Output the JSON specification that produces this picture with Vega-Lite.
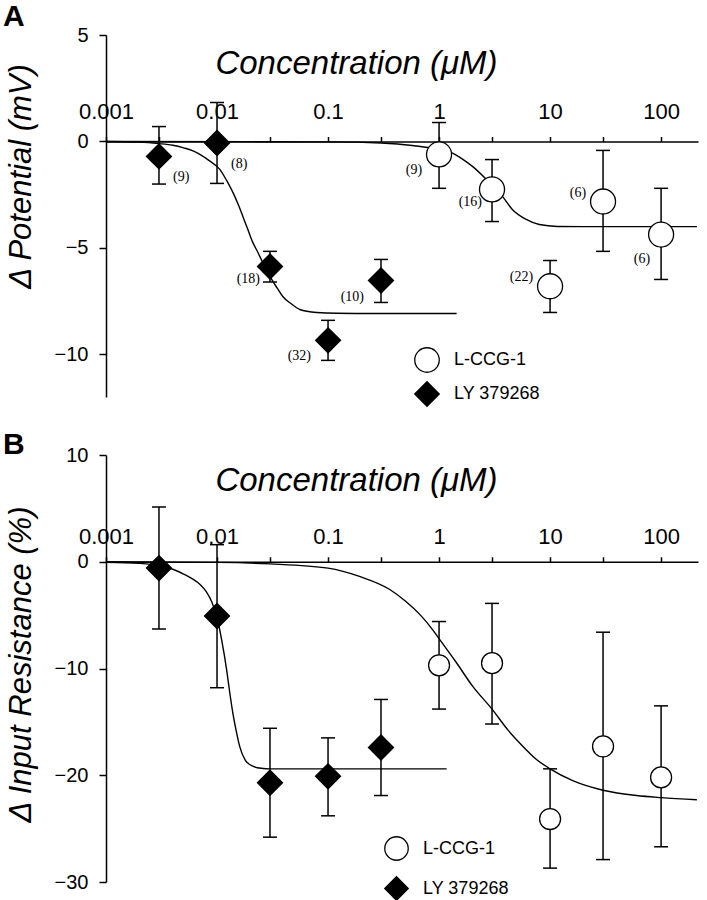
{
  "$schema": "https://vega.github.io/schema/vega-lite/v6.json",
  "background": "white",
  "padding": {"left": 3, "top": 2, "right": 0, "bottom": 0},
  "bounds": "flush",
  "spacing": 58,
  "config": {
    "view": {"stroke": null},
    "font": "Liberation Sans",
    "axis": {
      "domainColor": "black", "domainWidth": 1.5, "tickColor": "black", "tickWidth": 1.5,
      "labelColor": "black", "titleColor": "black", "labelFont": "Liberation Sans", "titleFont": "Liberation Sans",
      "grid": false, "labelFlush": false, "labelOverlap": false, "titleFontWeight": "normal", "titleFontStyle": "italic"
    },
    "legend": {
      "orient": "none", "title": null, "symbolStrokeColor": "black", "symbolStrokeWidth": 1.3,
      "labelFontSize": 18, "labelFont": "Liberation Sans", "labelColor": "black", "labelOffset": 14, "padding": 0
    }
  },
  "datasets": {
    "ptsA": [
      {"drug": "LY 379268", "conc": 0.003, "mean": -0.70, "lo": -2.0, "hi": 0.7, "n": "(9)"},
      {"drug": "LY 379268", "conc": 0.01, "mean": -0.07, "lo": -1.97, "hi": 1.83, "n": "(8)"},
      {"drug": "LY 379268", "conc": 0.03, "mean": -5.87, "lo": -6.6, "hi": -5.16, "n": "(18)"},
      {"drug": "LY 379268", "conc": 0.1, "mean": -9.34, "lo": -10.28, "hi": -8.4, "n": "(32)"},
      {"drug": "LY 379268", "conc": 0.3, "mean": -6.53, "lo": -7.56, "hi": -5.54, "n": "(10)"},
      {"drug": "L-CCG-1", "conc": 1, "mean": -0.61, "lo": -2.2, "hi": 0.89, "n": "(9)"},
      {"drug": "L-CCG-1", "conc": 3, "mean": -2.25, "lo": -3.76, "hi": -0.85, "n": "(16)"},
      {"drug": "L-CCG-1", "conc": 10, "mean": -6.8, "lo": -8.03, "hi": -5.59, "n": "(22)"},
      {"drug": "L-CCG-1", "conc": 30, "mean": -2.82, "lo": -5.16, "hi": -0.42, "n": "(6)"},
      {"drug": "L-CCG-1", "conc": 100, "mean": -4.37, "lo": -6.48, "hi": -2.2, "n": "(6)"}
    ],
    "fitA": [
      {"drug": "LY 379268", "conc": 0.001, "mean": 0},
      {"drug": "LY 379268", "conc": 0.002, "mean": -0.03},
      {"drug": "LY 379268", "conc": 0.003, "mean": -0.1},
      {"drug": "LY 379268", "conc": 0.004, "mean": -0.18},
      {"drug": "LY 379268", "conc": 0.005, "mean": -0.3},
      {"drug": "LY 379268", "conc": 0.006, "mean": -0.43},
      {"drug": "LY 379268", "conc": 0.007, "mean": -0.61},
      {"drug": "LY 379268", "conc": 0.0085, "mean": -0.9},
      {"drug": "LY 379268", "conc": 0.0106, "mean": -1.31},
      {"drug": "LY 379268", "conc": 0.0122, "mean": -1.83},
      {"drug": "LY 379268", "conc": 0.0139, "mean": -2.39},
      {"drug": "LY 379268", "conc": 0.0155, "mean": -2.95},
      {"drug": "LY 379268", "conc": 0.0171, "mean": -3.52},
      {"drug": "LY 379268", "conc": 0.019, "mean": -4.15},
      {"drug": "LY 379268", "conc": 0.021, "mean": -4.74},
      {"drug": "LY 379268", "conc": 0.0233, "mean": -5.2},
      {"drug": "LY 379268", "conc": 0.0258, "mean": -5.68},
      {"drug": "LY 379268", "conc": 0.0285, "mean": -6.1},
      {"drug": "LY 379268", "conc": 0.0311, "mean": -6.48},
      {"drug": "LY 379268", "conc": 0.035, "mean": -6.9},
      {"drug": "LY 379268", "conc": 0.0391, "mean": -7.28},
      {"drug": "LY 379268", "conc": 0.046, "mean": -7.6},
      {"drug": "LY 379268", "conc": 0.0556, "mean": -7.89},
      {"drug": "LY 379268", "conc": 0.079, "mean": -8.03},
      {"drug": "LY 379268", "conc": 0.12, "mean": -8.07},
      {"drug": "LY 379268", "conc": 0.3, "mean": -8.08},
      {"drug": "LY 379268", "conc": 1.44, "mean": -8.08},
      {"drug": "L-CCG-1", "conc": 0.001, "mean": 0},
      {"drug": "L-CCG-1", "conc": 0.1, "mean": -0.02},
      {"drug": "L-CCG-1", "conc": 0.3, "mean": -0.07},
      {"drug": "L-CCG-1", "conc": 0.6, "mean": -0.2},
      {"drug": "L-CCG-1", "conc": 1, "mean": -0.38},
      {"drug": "L-CCG-1", "conc": 1.32, "mean": -0.55},
      {"drug": "L-CCG-1", "conc": 1.65, "mean": -0.85},
      {"drug": "L-CCG-1", "conc": 2.0, "mean": -1.17},
      {"drug": "L-CCG-1", "conc": 2.67, "mean": -1.78},
      {"drug": "L-CCG-1", "conc": 3.2, "mean": -2.2},
      {"drug": "L-CCG-1", "conc": 3.72, "mean": -2.58},
      {"drug": "L-CCG-1", "conc": 4.57, "mean": -3.19},
      {"drug": "L-CCG-1", "conc": 6.1, "mean": -3.66},
      {"drug": "L-CCG-1", "conc": 8.0, "mean": -3.9},
      {"drug": "L-CCG-1", "conc": 11.7, "mean": -3.99},
      {"drug": "L-CCG-1", "conc": 20, "mean": -4.0},
      {"drug": "L-CCG-1", "conc": 210, "mean": -4.0}
    ],
    "ptsB": [
      {"drug": "LY 379268", "conc": 0.003, "mean": -0.59, "lo": -6.3, "hi": 5.13},
      {"drug": "LY 379268", "conc": 0.01, "mean": -5.08, "lo": -11.8, "hi": 1.6},
      {"drug": "LY 379268", "conc": 0.03, "mean": -20.7, "lo": -25.8, "hi": -15.6},
      {"drug": "LY 379268", "conc": 0.1, "mean": -20.1, "lo": -23.8, "hi": -16.5},
      {"drug": "LY 379268", "conc": 0.3, "mean": -17.4, "lo": -21.9, "hi": -12.9},
      {"drug": "L-CCG-1", "conc": 1, "mean": -9.7, "lo": -13.8, "hi": -5.6},
      {"drug": "L-CCG-1", "conc": 3, "mean": -9.5, "lo": -15.2, "hi": -3.9},
      {"drug": "L-CCG-1", "conc": 10, "mean": -24.1, "lo": -28.7, "hi": -19.4},
      {"drug": "L-CCG-1", "conc": 30, "mean": -17.3, "lo": -27.9, "hi": -6.6},
      {"drug": "L-CCG-1", "conc": 100, "mean": -20.2, "lo": -26.7, "hi": -13.5}
    ],
    "fitB": [
      {"drug": "LY 379268", "conc": 0.001, "mean": -0.05},
      {"drug": "LY 379268", "conc": 0.002, "mean": -0.15},
      {"drug": "LY 379268", "conc": 0.003, "mean": -0.35},
      {"drug": "LY 379268", "conc": 0.004, "mean": -0.7},
      {"drug": "LY 379268", "conc": 0.005, "mean": -1.15},
      {"drug": "LY 379268", "conc": 0.006, "mean": -1.6},
      {"drug": "LY 379268", "conc": 0.007, "mean": -2.1},
      {"drug": "LY 379268", "conc": 0.008, "mean": -2.8},
      {"drug": "LY 379268", "conc": 0.009, "mean": -3.8},
      {"drug": "LY 379268", "conc": 0.01, "mean": -5.2},
      {"drug": "LY 379268", "conc": 0.011, "mean": -7.3},
      {"drug": "LY 379268", "conc": 0.0122, "mean": -10.1},
      {"drug": "LY 379268", "conc": 0.013, "mean": -12.2},
      {"drug": "LY 379268", "conc": 0.0139, "mean": -14.2},
      {"drug": "LY 379268", "conc": 0.015, "mean": -16.0},
      {"drug": "LY 379268", "conc": 0.016, "mean": -17.3},
      {"drug": "LY 379268", "conc": 0.018, "mean": -18.6},
      {"drug": "LY 379268", "conc": 0.021, "mean": -19.15},
      {"drug": "LY 379268", "conc": 0.025, "mean": -19.35},
      {"drug": "LY 379268", "conc": 0.03, "mean": -19.4},
      {"drug": "LY 379268", "conc": 0.1, "mean": -19.4},
      {"drug": "LY 379268", "conc": 1.17, "mean": -19.4},
      {"drug": "L-CCG-1", "conc": 0.001, "mean": 0},
      {"drug": "L-CCG-1", "conc": 0.01, "mean": -0.06},
      {"drug": "L-CCG-1", "conc": 0.03, "mean": -0.2},
      {"drug": "L-CCG-1", "conc": 0.1, "mean": -0.6},
      {"drug": "L-CCG-1", "conc": 0.195, "mean": -1.4},
      {"drug": "L-CCG-1", "conc": 0.36, "mean": -2.6},
      {"drug": "L-CCG-1", "conc": 0.5, "mean": -3.7},
      {"drug": "L-CCG-1", "conc": 0.68, "mean": -5.0},
      {"drug": "L-CCG-1", "conc": 0.88, "mean": -6.4},
      {"drug": "L-CCG-1", "conc": 1.0, "mean": -7.2},
      {"drug": "L-CCG-1", "conc": 1.4, "mean": -9.3},
      {"drug": "L-CCG-1", "conc": 2.02, "mean": -11.7},
      {"drug": "L-CCG-1", "conc": 3, "mean": -13.8},
      {"drug": "L-CCG-1", "conc": 4.2, "mean": -15.8},
      {"drug": "L-CCG-1", "conc": 5.7, "mean": -17.3},
      {"drug": "L-CCG-1", "conc": 7.5, "mean": -18.5},
      {"drug": "L-CCG-1", "conc": 10, "mean": -19.4},
      {"drug": "L-CCG-1", "conc": 16, "mean": -20.5},
      {"drug": "L-CCG-1", "conc": 30, "mean": -21.4},
      {"drug": "L-CCG-1", "conc": 60, "mean": -21.9},
      {"drug": "L-CCG-1", "conc": 100, "mean": -22.1},
      {"drug": "L-CCG-1", "conc": 210, "mean": -22.3}
    ]
  },
  "vconcat": [
    {
      "width": 592,
      "height": 362,
      "title": {"text": "A", "anchor": "start", "frame": "group", "dx": -103, "fontSize": 30, "fontWeight": "bold", "font": "Liberation Sans", "color": "black", "baseline": "alphabetic", "offset": -31},
      "encoding": {
        "x": {
          "field": "conc", "type": "quantitative",
          "scale": {"type": "log", "domain": [0.001, 215], "nice": false},
          "axis": {
            "orient": "top", "offset": -106.5,
            "values": [0.001, 0.003, 0.01, 0.03, 0.1, 0.3, 1, 3, 10, 30, 100],
            "format": "~g",
            "labelExpr": "(datum.value == 0.001 || datum.value == 0.01 || datum.value == 0.1 || datum.value == 1 || datum.value == 10 || datum.value == 100) ? datum.label : ''",
            "labelFontSize": 22, "labelPadding": 13, "tickSize": 5,
            "title": "Concentration (μM)", "titleFontSize": 33, "titleX": 250, "titleY": -68, "titleAlign": "center", "titleBaseline": "alphabetic"
          }
        },
        "y": {
          "field": "mean", "type": "quantitative",
          "scale": {"domain": [-12, 5], "nice": false},
          "axis": {
            "values": [5, 0, -5, -10], "labelFontSize": 20, "labelPadding": 11, "tickSize": 7,
            "title": "Δ Potential (mV)", "titleFontSize": 31, "titleAngle": 270, "titleX": -76, "titleY": 141, "titleAlign": "center", "titleBaseline": "alphabetic"
          }
        }
      },
      "layer": [
        {
          "data": {"name": "ptsA"},
          "mark": {"type": "rule", "color": "black", "strokeWidth": 1.5},
          "encoding": {
            "y": {"field": "lo", "type": "quantitative", "scale": {"domain": [-12, 5], "nice": false}},
            "y2": {"field": "hi"}
          }
        },
        {
          "data": {"name": "ptsA"},
          "mark": {"type": "tick", "orient": "horizontal", "size": 14, "thickness": 1.5, "color": "black", "opacity": 1},
          "encoding": {"y": {"field": "lo", "type": "quantitative", "scale": {"domain": [-12, 5], "nice": false}}}
        },
        {
          "data": {"name": "ptsA"},
          "mark": {"type": "tick", "orient": "horizontal", "size": 14, "thickness": 1.5, "color": "black", "opacity": 1},
          "encoding": {"y": {"field": "hi", "type": "quantitative", "scale": {"domain": [-12, 5], "nice": false}}}
        },
        {
          "data": {"name": "fitA"},
          "mark": {"type": "line", "color": "black", "strokeWidth": 1.4, "interpolate": "monotone"},
          "encoding": {"detail": {"field": "drug"}}
        },
        {
          "data": {"name": "ptsA"},
          "mark": {"type": "point", "filled": true, "strokeWidth": 1.3, "size": 625, "opacity": 1},
          "encoding": {
            "shape": {"field": "drug", "type": "nominal", "scale": {"domain": ["L-CCG-1", "LY 379268"], "range": ["circle", "diamond"]},
              "legend": {"legendX": 308, "legendY": 312, "symbolSize": 600, "rowPadding": 4}},
            "fill": {"field": "drug", "type": "nominal", "scale": {"domain": ["L-CCG-1", "LY 379268"], "range": ["white", "black"]},
              "legend": {"legendX": 308, "legendY": 312, "symbolSize": 600, "rowPadding": 4}},
            "stroke": {"field": "drug", "type": "nominal", "scale": {"domain": ["L-CCG-1", "LY 379268"], "range": ["black", "black"]},
              "legend": {"legendX": 308, "legendY": 312, "symbolSize": 600, "rowPadding": 4}}
          }
        },
        {
          "data": {"name": "ptsA"},
          "transform": [{"filter": "datum.drug == 'LY 379268' && datum.conc <= 0.01"}],
          "mark": {"type": "text", "font": "Liberation Serif", "fontSize": 14, "color": "black", "align": "left", "baseline": "middle", "dx": 14, "dy": 21},
          "encoding": {"text": {"field": "n"}}
        },
        {
          "data": {"name": "ptsA"},
          "transform": [{"filter": "(datum.drug == 'LY 379268' && datum.conc == 0.03) || (datum.drug == 'L-CCG-1' && datum.conc == 3)"}],
          "mark": {"type": "text", "font": "Liberation Serif", "fontSize": 14, "color": "black", "align": "right", "baseline": "middle", "dx": -10, "dy": 13},
          "encoding": {"text": {"field": "n"}}
        },
        {
          "data": {"name": "ptsA"},
          "transform": [{"filter": "(datum.drug == 'LY 379268' && datum.conc >= 0.1) || (datum.drug == 'L-CCG-1' && datum.conc == 1)"}],
          "mark": {"type": "text", "font": "Liberation Serif", "fontSize": 14, "color": "black", "align": "right", "baseline": "middle", "dx": -17, "dy": 16},
          "encoding": {"text": {"field": "n"}}
        },
        {
          "data": {"name": "ptsA"},
          "transform": [{"filter": "datum.drug == 'L-CCG-1' && (datum.conc == 10 || datum.conc == 30)"}],
          "mark": {"type": "text", "font": "Liberation Serif", "fontSize": 14, "color": "black", "align": "right", "baseline": "middle", "dx": -17, "dy": -9},
          "encoding": {"text": {"field": "n"}}
        },
        {
          "data": {"name": "ptsA"},
          "transform": [{"filter": "datum.drug == 'L-CCG-1' && datum.conc == 100"}],
          "mark": {"type": "text", "font": "Liberation Serif", "fontSize": 14, "color": "black", "align": "right", "baseline": "middle", "dx": -11, "dy": 24},
          "encoding": {"text": {"field": "n"}}
        }
      ]
    },
    {
      "width": 592,
      "height": 427,
      "title": {"text": "B", "anchor": "start", "frame": "group", "dx": -103, "fontSize": 30, "fontWeight": "bold", "font": "Liberation Sans", "color": "black", "baseline": "alphabetic", "offset": -39},
      "encoding": {
        "x": {
          "field": "conc", "type": "quantitative",
          "scale": {"type": "log", "domain": [0.001, 215], "nice": false},
          "axis": {
            "orient": "top", "offset": -106.75,
            "values": [0.001, 0.003, 0.01, 0.03, 0.1, 0.3, 1, 3, 10, 30, 100],
            "format": "~g",
            "labelExpr": "(datum.value == 0.001 || datum.value == 0.01 || datum.value == 0.1 || datum.value == 1 || datum.value == 10 || datum.value == 100) ? datum.label : ''",
            "labelFontSize": 22, "labelPadding": 8, "tickSize": 5,
            "title": "Concentration (μM)", "titleFontSize": 33, "titleX": 250, "titleY": -71, "titleAlign": "center", "titleBaseline": "alphabetic"
          }
        },
        "y": {
          "field": "mean", "type": "quantitative",
          "scale": {"domain": [-30, 10], "nice": false},
          "axis": {
            "values": [10, 0, -10, -20, -30], "labelFontSize": 20, "labelPadding": 11, "tickSize": 7,
            "title": "Δ Input Resistance (%)", "titleFontSize": 31, "titleAngle": 270, "titleX": -76, "titleY": 209, "titleAlign": "center", "titleBaseline": "alphabetic"
          }
        }
      },
      "layer": [
        {
          "data": {"name": "ptsB"},
          "mark": {"type": "rule", "color": "black", "strokeWidth": 1.5},
          "encoding": {
            "y": {"field": "lo", "type": "quantitative", "scale": {"domain": [-30, 10], "nice": false}},
            "y2": {"field": "hi"}
          }
        },
        {
          "data": {"name": "ptsB"},
          "mark": {"type": "tick", "orient": "horizontal", "size": 14, "thickness": 1.5, "color": "black", "opacity": 1},
          "encoding": {"y": {"field": "lo", "type": "quantitative", "scale": {"domain": [-30, 10], "nice": false}}}
        },
        {
          "data": {"name": "ptsB"},
          "mark": {"type": "tick", "orient": "horizontal", "size": 14, "thickness": 1.5, "color": "black", "opacity": 1},
          "encoding": {"y": {"field": "hi", "type": "quantitative", "scale": {"domain": [-30, 10], "nice": false}}}
        },
        {
          "data": {"name": "fitB"},
          "mark": {"type": "line", "color": "black", "strokeWidth": 1.4, "interpolate": "monotone"},
          "encoding": {"detail": {"field": "drug"}}
        },
        {
          "data": {"name": "ptsB"},
          "transform": [{"filter": "datum.drug == 'L-CCG-1'"}],
          "mark": {"type": "point", "filled": true, "strokeWidth": 1.3, "size": 440, "opacity": 1},
          "encoding": {
            "shape": {"field": "drug", "type": "nominal", "scale": {"domain": ["L-CCG-1", "LY 379268"], "range": ["circle", "diamond"]},
              "legend": {"legendX": 278, "legendY": 381, "symbolSize": 550, "rowPadding": 11}},
            "fill": {"field": "drug", "type": "nominal", "scale": {"domain": ["L-CCG-1", "LY 379268"], "range": ["white", "black"]},
              "legend": {"legendX": 278, "legendY": 381, "symbolSize": 550, "rowPadding": 11}},
            "stroke": {"field": "drug", "type": "nominal", "scale": {"domain": ["L-CCG-1", "LY 379268"], "range": ["black", "black"]},
              "legend": {"legendX": 278, "legendY": 381, "symbolSize": 550, "rowPadding": 11}}
          }
        },
        {
          "data": {"name": "ptsB"},
          "transform": [{"filter": "datum.drug == 'LY 379268'"}],
          "mark": {"type": "point", "filled": true, "strokeWidth": 1.3, "size": 625, "opacity": 1},
          "encoding": {
            "shape": {"field": "drug", "type": "nominal", "scale": {"domain": ["L-CCG-1", "LY 379268"], "range": ["circle", "diamond"]},
              "legend": {"legendX": 278, "legendY": 381, "symbolSize": 550, "rowPadding": 11}},
            "fill": {"field": "drug", "type": "nominal", "scale": {"domain": ["L-CCG-1", "LY 379268"], "range": ["white", "black"]},
              "legend": {"legendX": 278, "legendY": 381, "symbolSize": 550, "rowPadding": 11}},
            "stroke": {"field": "drug", "type": "nominal", "scale": {"domain": ["L-CCG-1", "LY 379268"], "range": ["black", "black"]},
              "legend": {"legendX": 278, "legendY": 381, "symbolSize": 550, "rowPadding": 11}}
          }
        }
      ]
    }
  ],
  "resolve": {
    "scale": {"shape": "independent", "fill": "independent", "stroke": "independent"},
    "legend": {"shape": "independent", "fill": "independent", "stroke": "independent"}
  }
}
